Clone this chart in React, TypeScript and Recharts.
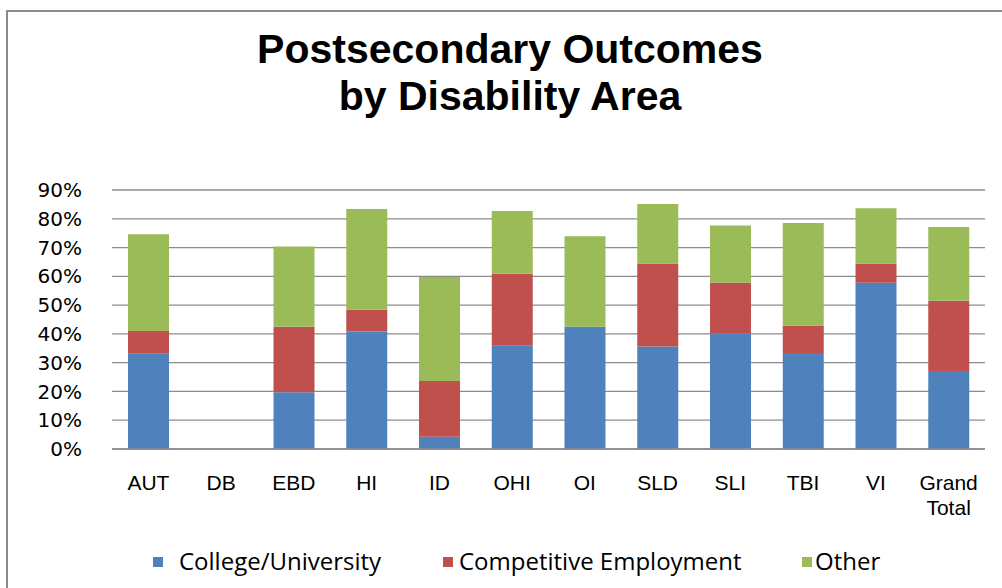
import { Bar, BarChart, CartesianGrid, XAxis, YAxis } from "recharts";

// values, in percent
const areas = ["AUT", "DB", "EBD", "HI", "ID", "OHI", "OI", "SLD", "SLI", "TBI", "VI", "Grand Total"];
const college = [33.1, 0, 19.7, 40.8, 4.3, 35.9, 42.5, 35.6, 40.1, 33.4, 57.8, 27.1];
const competitive = [7.9, 0, 22.8, 7.6, 19.3, 25.0, 0, 28.9, 17.7, 9.5, 6.7, 24.4];
const other = [33.6, 0, 27.9, 35.0, 36.2, 21.8, 31.4, 20.6, 19.9, 35.6, 19.2, 25.6];
const yTicks = [0, 10, 20, 30, 40, 50, 60, 70, 80, 90];
const titleLines = ["Postsecondary Outcomes", "by Disability Area"];

const series = [
  { key: "college", name: "College/University", color: "#4F81BD" },
  { key: "competitive", name: "Competitive Employment", color: "#C0504D" },
  { key: "other", name: "Other", color: "#9BBB59" }
];

// legend swatch / label x positions as in the original
const legendPos = [
  { box: 153, text: 179 },
  { box: 443, text: 459 },
  { box: 802, text: 815 }
];

const data = areas.map((area, i) => ({
  area,
  college: college[i],
  competitive: competitive[i],
  other: other[i]
}));

const SANS = "'Liberation Sans', Arial, sans-serif";
const OPEN = "'Open Sans', 'Liberation Sans', sans-serif";

function AreaTick({ x, y, payload }: any) {
  const lines = String(payload.value).split(" ");
  return (
    <text x={x} y={y} textAnchor="middle" fontFamily={SANS} fontSize={21} fill="#000">
      {lines.map((line, i) => (
        <tspan key={line} x={x} dy={i === 0 ? 33 : 24.5}>
          {line}
        </tspan>
      ))}
    </text>
  );
}

export default function App() {
  return (
    <div style={{ position: "absolute", left: 0, top: 0, width: 1002, height: 588, overflow: "hidden", background: "#fff" }}>
      <div
        style={{
          position: "absolute",
          left: 6,
          top: 10,
          width: 1100,
          height: 700,
          borderLeft: "2px solid #8c8c8c",
          borderTop: "2px solid #8c8c8c"
        }}
      />
      <div style={{ position: "absolute", left: 0, top: 0 }}>
        <BarChart
          width={1002}
          height={588}
          data={data}
          margin={{ top: 190, right: 17, bottom: 79, left: 0 }}
          barCategoryGap="22%"
        >
          <CartesianGrid vertical={false} stroke="#8c8c8c" strokeWidth={1.3} />
          <XAxis
            dataKey="area"
            interval={0}
            tickLine={false}
            axisLine={{ stroke: "#8c8c8c", strokeWidth: 1.3 }}
            tick={<AreaTick />}
            height={60}
          />
          <YAxis
            type="number"
            domain={[0, 90]}
            ticks={yTicks}
            interval={0}
            tickLine={false}
            axisLine={false}
            width={112}
            tickMargin={24}
            tickFormatter={(v) => `${v}%`}
            tick={{ fontFamily: "'DejaVu Sans', sans-serif", fontSize: 20, fill: "#000" }}
          />
          {series.map((s) => (
            <Bar key={s.key} dataKey={s.key} name={s.name} stackId="a" fill={s.color} isAnimationActive={false} />
          ))}
        </BarChart>
      </div>
      <svg width={1002} height={588} style={{ position: "absolute", left: 0, top: 0 }}>
        {titleLines.map((line, i) => (
          <text
            key={line}
            x={510}
            y={63 + i * 47}
            textAnchor="middle"
            fontFamily={SANS}
            fontWeight={700}
            fontSize={41}
            fill="#000"
          >
            {line}
          </text>
        ))}
        {series.map((s, i) => (
          <g key={s.key}>
            <rect x={legendPos[i].box} y={557} width={10} height={10} fill={s.color} />
            <text x={legendPos[i].text} y={570} fontFamily={OPEN} fontSize={24} fill="#000">
              {s.name}
            </text>
          </g>
        ))}
      </svg>
    </div>
  );
}
